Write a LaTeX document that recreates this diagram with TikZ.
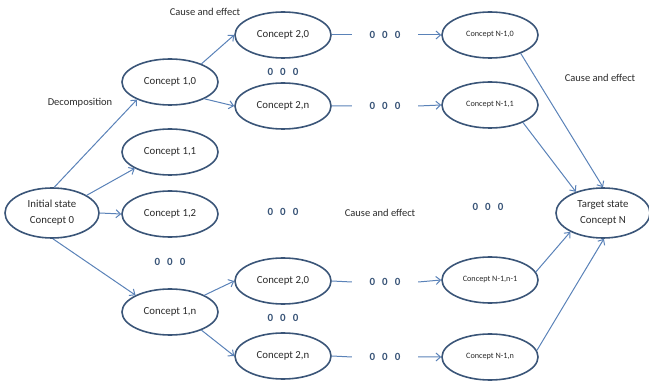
\documentclass[tikz,border=0pt]{standalone}
\usepackage{fontspec}
\setmainfont{Carlito}
\usetikzlibrary{shapes.geometric,arrows.meta}
\definecolor{rim}{HTML}{3A5578}
\definecolor{link}{HTML}{5A82B8}
\definecolor{ink}{HTML}{2A2A2A}
\newcommand{\zeros}{0\hspace{7pt}0\hspace{7pt}0}

\begin{document}
\begin{tikzpicture}[x=1pt,y=-1pt,
            concept/.style = {ellipse, draw=rim, line width=1.6pt,
                        minimum width=96pt, minimum height=46pt,
                        inner sep=0pt, align=center, text=ink,
                        font=\fontsize{10.8}{16}\selectfont},
            small/.style = {font=\fontsize{8.2}{10}\selectfont},
            ooo/.style = {text=rim, minimum width=66pt, inner sep=0pt,
                        font=\fontsize{11}{12}\selectfont\bfseries},
            note/.style = {text=ink, font=\fontsize{10.5}{12}\selectfont},
            flow/.style = {draw=link, line width=1pt,
                        -{Straight Barb[length=4.5pt,width=8pt]}}]
            \useasboundingbox (0,0) rectangle (649,382);
            % Start and target
            \node[concept, minimum width=94pt, minimum height=50pt] (c0) at (52,213) {Initial state\\Concept 0};
            \node[concept, minimum width=94pt, minimum height=50pt] (cN) at (603,213) {Target state\\Concept N};
            % Level 1
            \node[concept] (c10) at (170,82) {Concept 1,0};
            \node[concept] (c11) at (170,152) {Concept 1,1};
            \node[concept] (c12) at (170,214) {Concept 1,2};
            \node[concept] (c1n) at (170,312) {Concept 1,n};
            % Level 2
            \node[concept] (c20a) at (283,35) {Concept 2,0};
            \node[concept] (c2na) at (283,106) {Concept 2,n};
            \node[concept] (c20b) at (283,281) {Concept 2,0};
            \node[concept] (c2nb) at (283,356) {Concept 2,n};
            % Level N-1
            \node[concept,small] (m10) at (490,35) {Concept N-1,0};
            \node[concept,small] (m11) at (490,105) {Concept N-1,1};
            \node[concept,small] (m1a) at (490,280) {Concept N-1,n-1};
            \node[concept,small] (m1b) at (490,357) {Concept N-1,n};
            % Dots
            \node[ooo] (d20a) at (385,35) {\zeros};
            \node[ooo] (d2na) at (385,106) {\zeros};
            \node[ooo] (d20b) at (385,282) {\zeros};
            \node[ooo] (d2nb) at (385,357) {\zeros};
            \node[ooo] (v2a) at (283,72) {\zeros};
            \node[ooo] (v2b) at (283,318) {\zeros};
            \node[ooo] (v1) at (170,262) {\zeros};
            \node[ooo] (h2) at (283,212) {\zeros};
            \node[ooo] (hN) at (488,207) {\zeros};
            % Labels
            \node[note] (t1) at (205,12) {Cause and effect};
            \node[note] (t2) at (80,103) {Decomposition};
            \node[note] (t3) at (380,213) {Cause and effect};
            \node[note] (t4) at (600,78) {Cause and effect};
            % Decomposition arrows
            \draw[flow] (c0.85) -- (c10.208);
            \draw[flow] (c0.27) -- (c11.205);
            \draw[flow] (c0.0) -- (c12.180);
            \draw[flow] (c0.-88) -- (c1n.154);
            \draw[flow] (c10.30) -- (c20a.west);
            \draw[flow] (c10.-26) -- (c2na.west);
            \draw[flow] (c1n.26) -- (c20b.west);
            \draw[flow] (c1n.-30) -- (c2nb.west);
            % Chains
            \foreach \a/\b/\c in {c20a/d20a/m10, c2na/d2na/m11, c20b/d20b/m1a, c2nb/d2nb/m1b}
                \draw[flow] (\a.east) -- (\b.west) (\b.east) -- (\c.west);
            % Into target
            \draw[flow] (m10.-31) -- (cN.90);
            \draw[flow] (m11.-28) -- (cN.142);
            \draw[flow] (m1a.10) -- (cN.210);
            \draw[flow] (m1b.8) -- (cN.272);
        \end{tikzpicture}
\end{document}
